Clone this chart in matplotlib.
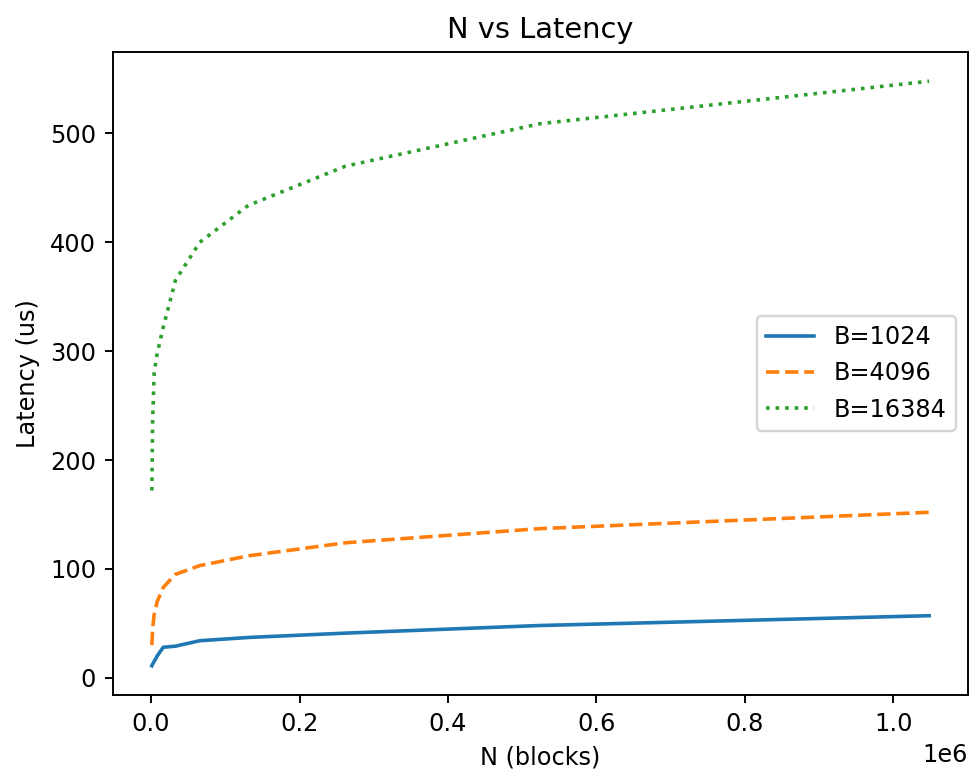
import numpy as np
import matplotlib
matplotlib.use('Agg')
import matplotlib.pyplot as plt

# block counts (powers of two)
n_blocks = [1024, 2048, 4096, 8192, 16384, 32768, 65536, 131072, 262144, 524288, 1048576]

# latency in us
lat_1024 = [11, 12.5, 15, 20, 28, 29, 34, 37, 41, 48, 57]
lat_4096 = [30, 45, 58, 70, 83, 95, 103, 112, 124, 137, 152]
lat_16384 = [172, 235, 280, 298, 322, 365, 400, 434, 470, 509, 548]

dpi = 173
fig = plt.figure(figsize=(979 / dpi, 777 / dpi), dpi=dpi)
ax = fig.add_axes([113 / 979, 1 - 695 / 777, (968 - 113) / 979, (695 - 52) / 777])

ax.plot(n_blocks, lat_1024, linestyle='-', label='B=1024')
ax.plot(n_blocks, lat_4096, linestyle='--', label='B=4096')
ax.plot(n_blocks, lat_16384, linestyle=':', label='B=16384')

ax.set_title('N vs Latency')
ax.set_xlabel('N (blocks)')
ax.set_ylabel('Latency (us)')
ax.legend(loc='center right')

fig.savefig('out.png', dpi=dpi)
